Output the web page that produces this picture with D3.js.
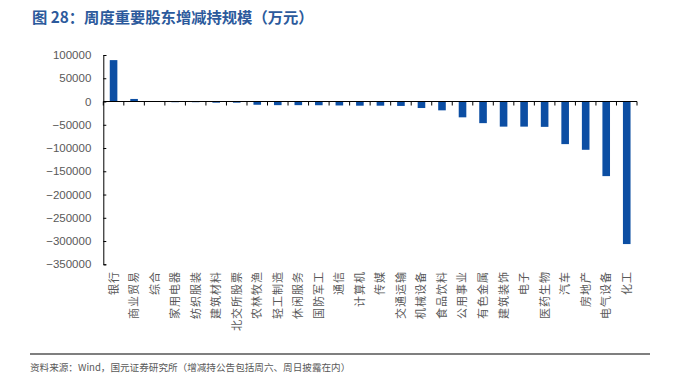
<!DOCTYPE html>
<html>
<head>
<meta charset="utf-8">
<script src="https://cdn.jsdelivr.net/npm/d3@7"></script>
<style>
  body { margin: 0; background: #fff; }
  svg { display: block; }
</style>
</head>
<body>
<div id="wrapper"></div>
<script>
// 周度重要股东增减持规模（万元）
const industries = [
  "银行", "商业贸易", "综合", "家用电器", "纺织服装", "建筑材料", "北交所股票",
  "农林牧渔", "轻工制造", "休闲服务", "国防军工", "通信", "计算机", "传媒",
  "交通运输", "机械设备", "食品饮料", "公用事业", "有色金属", "建筑装饰", "电子",
  "医药生物", "汽车", "房地产", "电气设备", "化工"
]
const netChange = [
  89000, 5500, -1000, -1500, -1500, -2500, -2500,
  -7000, -7800, -7800, -8000, -8500, -9000, -9000,
  -9500, -14000, -19000, -34000, -46500, -54000, -54000,
  -54500, -91600, -103800, -160400, -306500
]
const yTicks = [100000, 50000, 0, -50000, -100000, -150000, -200000, -250000, -300000, -350000]

const titleText = "图 28：周度重要股东增减持规模（万元）"
const sourceText = "资料来源：Wind，国元证券研究所（增减持公告包括周六、周日披露在内）"

const data = industries.map((name, i) => ({ name, value: netChange[i] }))

const dimensions = { width: 679, height: 385 }
const plot = { left: 103.3, right: 637, top: 55, bottom: 264.3 }

const svg = d3.select("#wrapper")
  .append("svg")
  .attr("width", dimensions.width)
  .attr("height", dimensions.height)

// title
svg.append("text")
  .attr("x", 32)
  .attr("y", 23)
  .attr("fill", "#2c5a9c")
  .style("font-family", "'Noto Sans CJK SC', sans-serif")
  .style("font-size", "15.3px")
  .style("font-weight", "bold")
  .text(titleText)

// scales
const xScale = d3.scaleBand()
  .domain(industries)
  .range([plot.left, plot.right])
  .paddingInner(0.63)
  .paddingOuter(0.315)

const yScale = d3.scaleLinear()
  .domain([-350000, 100000])
  .range([plot.bottom, plot.top])

// bars
svg.append("g")
  .selectAll("rect")
  .data(data)
  .join("rect")
  .attr("x", d => xScale(d.name))
  .attr("y", d => yScale(Math.max(0, d.value)))
  .attr("width", xScale.bandwidth())
  .attr("height", d => Math.abs(yScale(d.value) - yScale(0)))
  .attr("fill", "#0c4ea3")

// y axis
const yAxis = svg.append("g")
  .attr("transform", `translate(${plot.left},0)`)
  .call(d3.axisLeft(yScale)
    .tickValues(yTicks)
    .tickFormat(d3.format("d"))
    .tickSizeInner(-3)
    .tickSizeOuter(-3)
    .tickPadding(12))

yAxis.select(".domain").attr("stroke", "#000")
yAxis.selectAll(".tick line").attr("stroke", "#000")
yAxis.selectAll(".tick text")
  .attr("fill", "#595959")
  .style("font-family", "'Liberation Sans', Arial, sans-serif")
  .style("font-size", "11.5px")

// x axis along zero, ticks at category boundaries
const step = xScale.step()
const boundaries = d3.range(industries.length + 1).map(i => plot.left + i * step)
const xAxis = svg.append("g")
  .attr("transform", `translate(0,${yScale(0)})`)

xAxis.append("line")
  .attr("x1", plot.left)
  .attr("x2", plot.right)
  .attr("stroke", "#000")

xAxis.selectAll(".bound")
  .data(boundaries)
  .join("line")
  .attr("class", "bound")
  .attr("x1", d => d)
  .attr("x2", d => d)
  .attr("y1", 0)
  .attr("y2", 4)
  .attr("stroke", "#000")

// category labels, rotated, read bottom to top
svg.append("g")
  .selectAll("text")
  .data(industries)
  .join("text")
  .attr("transform", d => `translate(${xScale(d) + xScale.bandwidth() / 2},271) rotate(-90)`)
  .attr("text-anchor", "end")
  .attr("dy", "0.36em")
  .attr("fill", "#595959")
  .style("font-family", "'Noto Sans CJK SC', sans-serif")
  .style("font-size", "11px")
  .style("letter-spacing", "1px")
  .text(d => d)

// footer
svg.append("line")
  .attr("x1", 30)
  .attr("x2", 650)
  .attr("y1", 354)
  .attr("y2", 354)
  .attr("stroke", "#000")
  .attr("stroke-width", 1.2)

svg.append("text")
  .attr("x", 30)
  .attr("y", 371)
  .attr("fill", "#595959")
  .style("font-family", "'Noto Sans CJK SC', sans-serif")
  .style("font-size", "9.6px")
  .text(sourceText)
</script>
</body>
</html>
